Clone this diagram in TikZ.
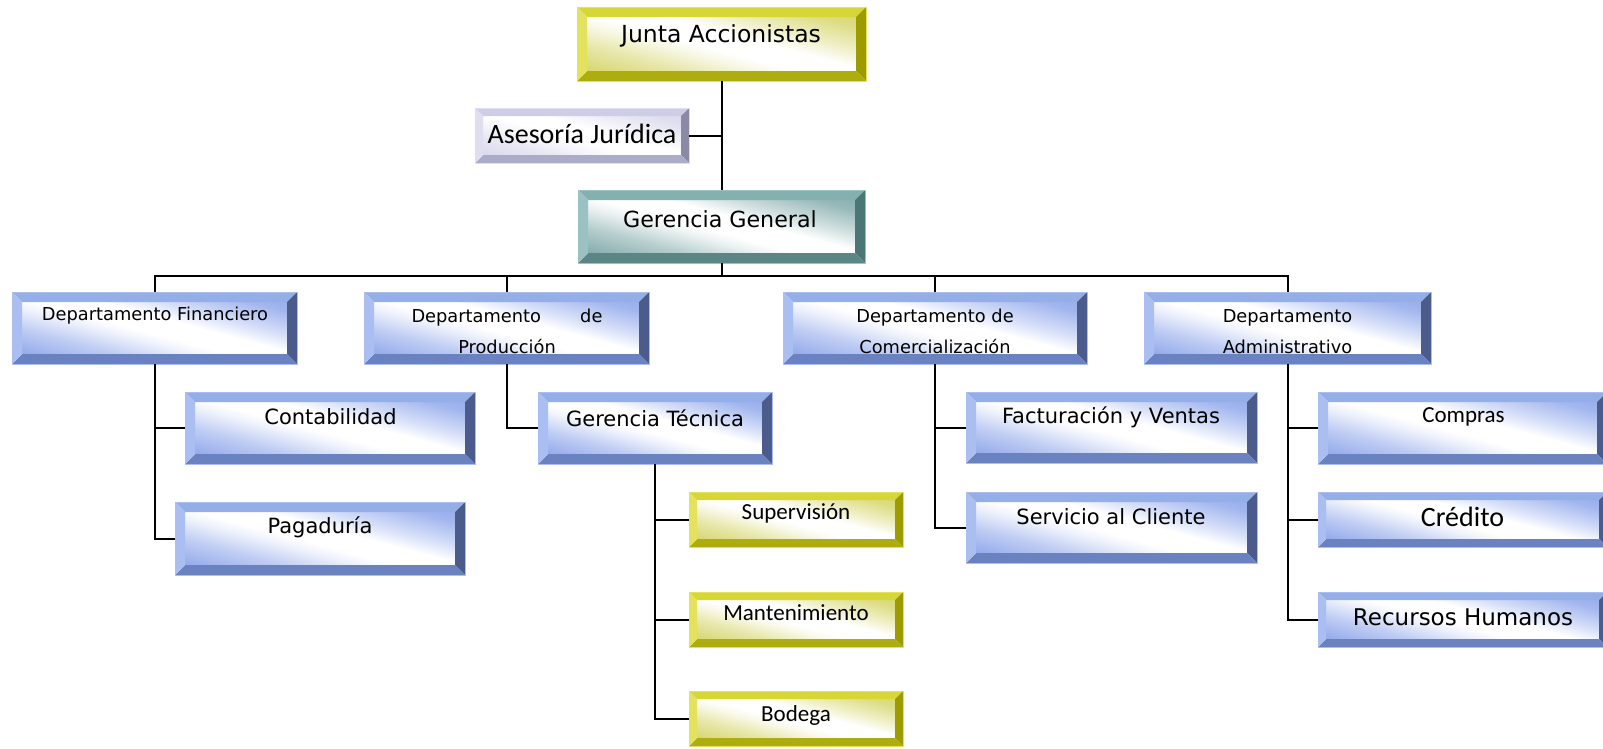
\documentclass[tikz,border=0pt]{standalone}
\usepackage{fontspec}
\usetikzlibrary{calc}
\newfontfamily\comicf{DejaVu Sans}
\newfontfamily\calf{Carlito}

% bevel colour schemes: T top, L left, R right, B bottom, F face tint
\definecolor{bluT}{HTML}{94AEE8}
\definecolor{bluL}{HTML}{AABEF2}
\definecolor{bluR}{HTML}{4B5C8C}
\definecolor{bluB}{HTML}{6A82C0}
\definecolor{bluF}{HTML}{8BA4EA}
\definecolor{yelT}{HTML}{D6D636}
\definecolor{yelL}{HTML}{E2E25C}
\definecolor{yelR}{HTML}{9C9C00}
\definecolor{yelB}{HTML}{ADAD10}
\definecolor{yelF}{HTML}{D4D466}
\definecolor{telT}{HTML}{84B0B0}
\definecolor{telL}{HTML}{9AC2C2}
\definecolor{telR}{HTML}{4A7676}
\definecolor{telB}{HTML}{5C8686}
\definecolor{telF}{HTML}{7CA6A6}
\definecolor{lavT}{HTML}{CDCDE6}
\definecolor{lavL}{HTML}{DEDEF0}
\definecolor{lavR}{HTML}{8A8AA8}
\definecolor{lavB}{HTML}{ABABCA}
\definecolor{lavF}{HTML}{D6D6EA}

% face shadings: tinted lower-left and upper-right corners, white diagonal band
\newcommand\faceshading[1]{%
  \pgfdeclareverticalshading{#1face}{100bp}{%
    color(0bp)=(#1F); color(17bp)=(#1F); color(32bp)=(#1F!55!white);
    color(42bp)=(#1F!15!white); color(47bp)=(white); color(56bp)=(white);
    color(64bp)=(#1F!35!white); color(76bp)=(#1F!80!white);
    color(88bp)=(#1F); color(100bp)=(#1F)}}
\faceshading{blu}
\faceshading{yel}
\faceshading{tel}
\faceshading{lav}

% the four bevel faces and the shaded panel of a box
\newcommand\bevelfaces[2]{%
  \path (path picture bounding box.north west) coordinate (bNW)
        (path picture bounding box.north east) coordinate (bNE)
        (path picture bounding box.south west) coordinate (bSW)
        (path picture bounding box.south east) coordinate (bSE);
  \shade[shading=#1face, shading angle=-15]
    ($(bNW)+(#2,-#2)$) rectangle ($(bSE)+(-#2,#2)$);
  \fill[#1T] (bNW) -- (bNE) -- ($(bNE)+(-#2,-#2)$) -- ($(bNW)+(#2,-#2)$) -- cycle;
  \fill[#1R] (bNE) -- (bSE) -- ($(bSE)+(-#2,#2)$) -- ($(bNE)+(-#2,-#2)$) -- cycle;
  \fill[#1B] (bSW) -- (bSE) -- ($(bSE)+(-#2,#2)$) -- ($(bSW)+(#2,#2)$) -- cycle;
  \fill[#1L] (bNW) -- (bSW) -- ($(bSW)+(#2,#2)$) -- ($(bNW)+(#2,-#2)$) -- cycle;
}

\tikzset{
  x=1pt, y=1pt,
  bevbox/.style 2 args={rectangle, inner sep=0pt, outer sep=0pt,
    draw=#1L, line width=0.6pt, path picture={\bevelfaces{#1}{#2}}},
  blubox/.style={bevbox={blu}{10}},
  bluthin/.style={bevbox={blu}{8}},
  yelbox/.style={bevbox={yel}{10}},
  yelthin/.style={bevbox={yel}{8}},
  telbox/.style={bevbox={tel}{10}},
  lavthin/.style={bevbox={lav}{8}},
  conn/.style={draw=black, line width=2pt},
  ctext/.style={inner sep=0pt, font=\comicf\fontsize{21}{25}\selectfont},
  dtext/.style={inner sep=0pt, align=center, font=\comicf\fontsize{17.8}{31}\selectfont},
  ltext/.style={inner sep=0pt, font=\calf\fontsize{28}{32}\selectfont},
  stext/.style={inner sep=0pt, font=\calf\fontsize{23}{27}\selectfont},
}

\begin{document}
\begin{tikzpicture}
\useasboundingbox (0,0) rectangle (1603,-748);
\clip (0,0) rectangle (1603,-748);
\fill[white] (0,0) rectangle (1603,-748);

% boxes
\node[yelbox, minimum width=289, minimum height=74] (junta) at (721.5,-44) {};
\node[lavthin, minimum width=214, minimum height=55] (ases) at (582,-135.5) {};
\node[telbox, minimum width=287, minimum height=73] (gg) at (721.5,-226.5) {};

\node[blubox, minimum width=285, minimum height=72] (fin) at (154.5,-328) {};
\node[blubox, minimum width=285, minimum height=72] (prod) at (506.5,-328) {};
\node[blubox, minimum width=304, minimum height=72] (com) at (935,-328) {};
\node[blubox, minimum width=287, minimum height=72] (adm) at (1287.5,-328) {};

\node[blubox, minimum width=290, minimum height=72] (cont) at (330,-428) {};
\node[blubox, minimum width=290, minimum height=73] (pag) at (320,-538.5) {};
\node[blubox, minimum width=234, minimum height=72] (gt) at (655,-428) {};
\node[yelthin, minimum width=214, minimum height=55] (sup) at (796,-519.5) {};
\node[yelthin, minimum width=214, minimum height=55] (mant) at (796,-619.5) {};
\node[yelthin, minimum width=214, minimum height=55] (bod) at (796,-718.5) {};
\node[blubox, minimum width=291, minimum height=71] (fac) at (1111.5,-427.5) {};
\node[blubox, minimum width=291, minimum height=71] (serv) at (1111.5,-527.5) {};
\node[blubox, minimum width=289, minimum height=72] (comp) at (1462.5,-428) {};
\node[bluthin, minimum width=289, minimum height=55] (cred) at (1462.5,-519.5) {};
\node[bluthin, minimum width=289, minimum height=55] (rh) at (1462.5,-619.5) {};

% labels
\node[ctext, font=\comicf\fontsize{23.5}{27}\selectfont] (t-junta) at (721,-36) {Junta Accionistas};
\node[ltext] (t-ases) at (582,-134) {Asesoría Jurídica};
\node[ctext, font=\comicf\fontsize{22.2}{26}\selectfont] (t-gg) at (720,-219) {Gerencia General};
\node[dtext] (t-fin) at (155,-316) {Departamento Financiero};
\node[dtext] (t-prod) at (507,-331.5) {\hbox to 191pt{Departamento\hfill de}\\Producción};
\node[dtext] (t-com) at (935,-331.5) {Departamento de\\Comercialización};
\node[dtext] (t-adm) at (1287.5,-331.5) {Departamento\\Administrativo};
\node[ctext] (t-cont) at (330.5,-417) {Contabilidad};
\node[ctext] (t-pag) at (320,-527) {Pagaduría};
\node[ctext] (t-gt) at (655,-418) {Gerencia Técnica};
\node[stext] (t-sup) at (796,-513) {Supervisión};
\node[stext] (t-mant) at (796,-613) {Mantenimiento};
\node[stext] (t-bod) at (796,-715) {Bodega};
\node[ctext] (t-fac) at (1111,-417) {Facturación y Ventas};
\node[ctext] (t-serv) at (1111,-517) {Servicio al Cliente};
\node[stext] (t-comp) at (1463.5,-417) {Compras};
\node[ltext] (t-cred) at (1462.5,-517) {Crédito};
\node[ctext, font=\comicf\fontsize{23}{27}\selectfont] (t-rh) at (1463,-617) {Recursos Humanos};

% connectors
\coordinate (bus) at (721.5,-276);
\draw[conn] (junta.south) -- (gg.north);
\draw[conn] (ases.east) -- (ases.east -| junta.south);
\draw[conn] (gg.south) -- (bus);
\draw[conn] (fin.north) -- (fin.north |- bus) -- (adm.north |- bus) -- (adm.north);
\draw[conn] (prod.north) -- (prod.north |- bus);
\draw[conn] (com.north) -- (com.north |- bus);

\draw[conn] (fin.south) |- (cont.west);
\draw[conn] (fin.south) |- (pag.west);
\draw[conn] (prod.south) |- (gt.west);
\draw[conn] (gt.south) |- (sup.west);
\draw[conn] (gt.south) |- (mant.west);
\draw[conn] (gt.south) |- (bod.west);
\draw[conn] (com.south) |- (fac.west);
\draw[conn] (com.south) |- (serv.west);
\draw[conn] (adm.south) |- (comp.west);
\draw[conn] (adm.south) |- (cred.west);
\draw[conn] (adm.south) |- (rh.west);
\end{tikzpicture}
\end{document}
